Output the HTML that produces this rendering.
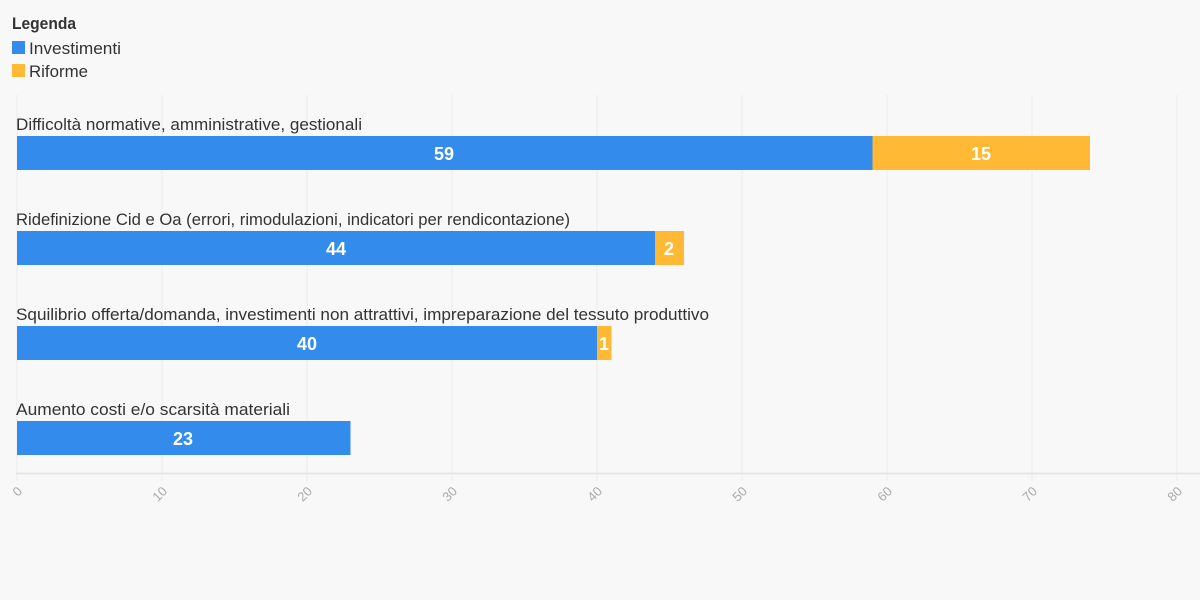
<!DOCTYPE html>
<html><head><meta charset="utf-8"><style>
html,body{margin:0;padding:0;background:#f8f8f8;}
svg{display:block;font-family:"Liberation Sans Narrow","Liberation Sans",sans-serif;}
</style></head><body>
<svg width="1200" height="600" xmlns="http://www.w3.org/2000/svg">
<rect width="1200" height="600" fill="#f8f8f8"/>
<text x="12" y="29" font-size="17" font-weight="bold" fill="#333" textLength="64" lengthAdjust="spacingAndGlyphs">Legenda</text>
<rect x="12" y="41" width="13" height="13" fill="#338cec"/>
<text x="29" y="54" font-size="17" fill="#333" textLength="92" lengthAdjust="spacingAndGlyphs">Investimenti</text>
<rect x="12" y="64" width="13" height="13" fill="#ffb935"/>
<text x="29" y="77" font-size="17" fill="#333" textLength="59" lengthAdjust="spacingAndGlyphs">Riforme</text>
<g stroke="#ebebeb" stroke-width="1">
<line x1="17" y1="95" x2="17" y2="481"/><line x1="162" y1="95" x2="162" y2="481"/><line x1="307" y1="95" x2="307" y2="481"/><line x1="452" y1="95" x2="452" y2="481"/><line x1="597" y1="95" x2="597" y2="481"/><line x1="742" y1="95" x2="742" y2="481"/><line x1="887" y1="95" x2="887" y2="481"/><line x1="1032" y1="95" x2="1032" y2="481"/><line x1="1177" y1="95" x2="1177" y2="481"/>
</g>
<line x1="16" y1="473.5" x2="1200" y2="473.5" stroke="#e6e6e6" stroke-width="2"/>
<g font-size="13" fill="#aaa" text-anchor="end">
<text transform="translate(23,492) rotate(-45)">0</text>
<text transform="translate(168,492) rotate(-45)">10</text>
<text transform="translate(313,492) rotate(-45)">20</text>
<text transform="translate(458,492) rotate(-45)">30</text>
<text transform="translate(603,492) rotate(-45)">40</text>
<text transform="translate(748,492) rotate(-45)">50</text>
<text transform="translate(893,492) rotate(-45)">60</text>
<text transform="translate(1038,492) rotate(-45)">70</text>
<text transform="translate(1183,492) rotate(-45)">80</text>
</g>
<g font-size="17" fill="#333">
<text x="16" y="130" textLength="346" lengthAdjust="spacingAndGlyphs">Difficoltà normative, amministrative, gestionali</text>
<text x="16" y="225" textLength="554" lengthAdjust="spacingAndGlyphs">Ridefinizione Cid e Oa (errori, rimodulazioni, indicatori per rendicontazione)</text>
<text x="16" y="320" textLength="693" lengthAdjust="spacingAndGlyphs">Squilibrio offerta/domanda, investimenti non attrattivi, impreparazione del tessuto produttivo</text>
<text x="16" y="415" textLength="274" lengthAdjust="spacingAndGlyphs">Aumento costi e/o scarsità materiali</text>
</g>
<rect x="17" y="136" width="855.5" height="34" fill="#338cec"/>
<rect x="872.5" y="136" width="217.5" height="34" fill="#ffb935"/>
<rect x="17" y="231" width="638" height="34" fill="#338cec"/>
<rect x="655" y="231" width="29" height="34" fill="#ffb935"/>
<rect x="17" y="326" width="580" height="34" fill="#338cec"/>
<rect x="597" y="326" width="14.5" height="34" fill="#ffb935"/>
<rect x="17" y="421" width="333.5" height="34" fill="#338cec"/>
<g font-size="18" font-weight="bold" fill="#fff" text-anchor="middle">
<text x="444" y="160">59</text><text x="981" y="160">15</text>
<text x="336" y="255">44</text><text x="669" y="255">2</text>
<text x="307" y="350">40</text><text x="604" y="350">1</text>
<text x="183" y="445">23</text>
</g>
</svg>
</body></html>
